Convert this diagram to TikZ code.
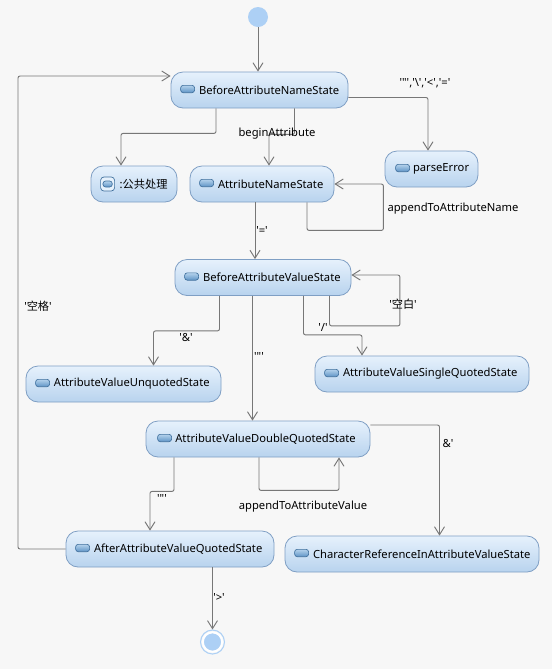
\documentclass[tikz,border=0pt]{standalone}
\usepackage{fontspec}
\usepackage{tikz}
\usetikzlibrary{positioning, arrows.meta, calc}
\usepackage{xcolor}
\newfontfamily\labelfont{Noto Sans}
\newfontfamily\cjk{Noto Sans CJK SC}
\definecolor{pagebg}{HTML}{F7F7F7}
\definecolor{boxline}{HTML}{7F9FC4}
\definecolor{boxtop}{HTML}{E6F1FC}
\definecolor{boxmid}{HTML}{D5E6F8}
\definecolor{boxbot}{HTML}{B8D3EE}
\definecolor{flowline}{HTML}{777777}
\definecolor{dotblue}{HTML}{ADD0F5}
\definecolor{iconline}{HTML}{3F6F9C}
\definecolor{icontop}{HTML}{B4D2EC}
\definecolor{iconbot}{HTML}{5F94C6}
\tikzset{
  statebox/.style={rectangle, rounded corners=9pt, draw=boxline, line width=0.6pt,
    top color=boxtop, middle color=boxmid, bottom color=boxbot,
    minimum height=27pt, inner xsep=0pt, inner ysep=0pt, align=left,
    text=black, font=\labelfont\fontsize{8.4}{10}\selectfont},
  stateicon/.style={rectangle, rounded corners=2pt, draw=iconline, line width=0.5pt,
    top color=icontop, bottom color=iconbot, minimum width=10.5pt, minimum height=5.5pt, inner sep=0pt},
  flow/.style={draw=flowline, line width=0.7pt, rounded corners=1.5pt,
    -{Straight Barb[length=6pt, width=7.5pt]}},
  flowlabel/.style={inner sep=0pt, font=\labelfont\fontsize{8.4}{10}\selectfont}
}
\begin{document}
\begin{tikzpicture}[x=0.75pt, y=-0.75pt]
\useasboundingbox (0,0) rectangle (552,669);
\fill[pagebg] (0,0) rectangle (552,669);

% start and end
\node[circle, fill=dotblue, minimum size=15pt, inner sep=0pt] (start) at (258,17) {};
\node[circle, fill=dotblue, draw=white, line width=1.5pt, minimum size=14.5pt, inner sep=0pt] (stopdot) at (212.5,642) {};
\node[circle, draw=dotblue, line width=0.8pt, minimum size=18pt, inner sep=0pt] (stop) at (212.5,642) {};

% states
\node[statebox, text width=132.75pt] (ban) at (259.5,90) {\hspace*{21pt}BeforeAttributeNameState};
\node[statebox, text width=64.5pt] (pub) at (134,184) {\hspace*{21.5pt}:{\cjk 公共处理}};
\node[statebox, text width=108pt] (an) at (262,184) {\hspace*{21pt}AttributeNameState};
\node[statebox, text width=69.75pt] (perr) at (431.5,169) {\hspace*{21pt}parseError};
\node[statebox, text width=132pt] (bav) at (263,277.5) {\hspace*{21pt}BeforeAttributeValueState};
\node[statebox, text width=146.25pt] (unq) at (123.5,384) {\hspace*{21pt}AttributeValueUnquotedState};
\node[statebox, text width=160.5pt] (sgl) at (422,374) {\hspace*{21pt}AttributeValueSingleQuotedState};
\node[statebox, text width=168pt] (dbl) at (258,439) {\hspace*{22pt}AttributeValueDoubleQuotedState};
\node[statebox, text width=156pt] (aft) at (170,549) {\hspace*{21pt}AfterAttributeValueQuotedState};
\node[statebox, text width=190.5pt] (cref) at (412,554) {\hspace*{21pt}CharacterReferenceInAttributeValueState};

% state icons
\node[stateicon] (banicon) at ($(ban.west)+(17,-1)$) {};
\node[stateicon] (anicon) at ($(an.west)+(17,-1)$) {};
\node[stateicon] (perricon) at ($(perr.west)+(18,-1)$) {};
\node[stateicon] (bavicon) at ($(bav.west)+(17,-1)$) {};
\node[stateicon] (unqicon) at ($(unq.west)+(17,-1)$) {};
\node[stateicon] (sglicon) at ($(sgl.west)+(17,-1)$) {};
\node[stateicon] (dblicon) at ($(dbl.west)+(19,-1)$) {};
\node[stateicon] (afticon) at ($(aft.west)+(17,-1)$) {};
\node[stateicon] (creficon) at ($(cref.west)+(17,-1)$) {};
\node[rectangle, rounded corners=2.5pt, draw=iconline, line width=0.5pt, fill=boxtop, minimum size=10.5pt, inner sep=0pt] (pubframe) at ($(pub.west)+(17,0)$) {};
\node[stateicon, minimum width=7pt, minimum height=4.5pt] (pubicon) at (pubframe) {};

% connectors
\draw[flow] (start) -- (ban.north -| start);
\draw[flow] ($(ban.south)+(-43.5,0)$) |- ($(ban.south)+(-60,25)$) -| ($(pub.north)+(-13,0)$);
\draw[flow] ($(ban.south)+(35,0)$) |- ($(ban.south)+(20,26)$) -| ($(an.north)+(7,0)$);
\draw[flow] ($(ban.east)+(0,7.5)$) -| ($(perr.north)+(-3.5,0)$);
\draw[flow] ($(an.south)+(45,0)$) |- ($(an.south)+(80,28)$) -| ($(an.east)+(49,0)$) -- (an.east);
\draw[flow] ($(an.south)+(-7,0)$) -- ($(bav.north)+(-8,0)$);
\draw[flow] ($(bav.south)+(66.5,0)$) |- ($(bav.south)+(100,30)$) -| ($(bav.east)+(48.5,-2.5)$) -- ($(bav.east)+(0,-2.5)$);
\draw[flow] ($(bav.south)+(40.5,0)$) |- ($(bav.south)+(70,39)$) -| ($(sgl.north)+(-60,0)$);
\draw[flow] ($(bav.south)+(-43.5,0)$) |- ($(bav.south)+(-70,35)$) -| ($(unq.north)+(30,0)$);
\draw[flow] ($(bav.south)+(-10.5,0)$) -- ($(dbl.north)+(-5.5,0)$);
\draw[flow] ($(dbl.east)+(0,-14)$) -| ($(cref.north)+(27.5,0)$);
\draw[flow] ($(dbl.south)+(1,0)$) |- ($(dbl.south)+(40,33)$) -| ($(dbl.south)+(81,0)$);
\draw[flow] ($(dbl.south)+(-84,0)$) |- ($(dbl.south)+(-95,34)$) -| ($(aft.north)+(-20,0)$);
\draw[flow] ($(aft.south)+(42.5,0)$) -- (stop.north);
\draw[flow] (aft.west) -| (18,76) -- ($(ban.west)+(0,-14)$);

% connector labels
\node[flowlabel] (lb1) at (425,83) {'"','\textbackslash','<','='};
\node[flowlabel] (lb2) at (277,134) {beginAttribute};
\node[flowlabel] (lb3) at (453,209) {appendToAttributeName};
\node[flowlabel] (lb4) at (262,230) {'='};
\node[flowlabel] (lb5) at (403,304) {'{\cjk 空白}'};
\node[flowlabel] (lb6) at (323,327) {'/'};
\node[flowlabel] (lb7) at (186,337) {'\&'};
\node[flowlabel] (lb8) at (259,356) {'"'};
\node[flowlabel] (lb9) at (38,306) {'{\cjk 空格}'};
\node[flowlabel] (lb10) at (448,443) {\&'};
\node[flowlabel] (lb11) at (162,498) {'"'};
\node[flowlabel] (lb12) at (303,507) {appendToAttributeValue};
\node[flowlabel] (lb13) at (219,597) {'>'};
\end{tikzpicture}
\end{document}
